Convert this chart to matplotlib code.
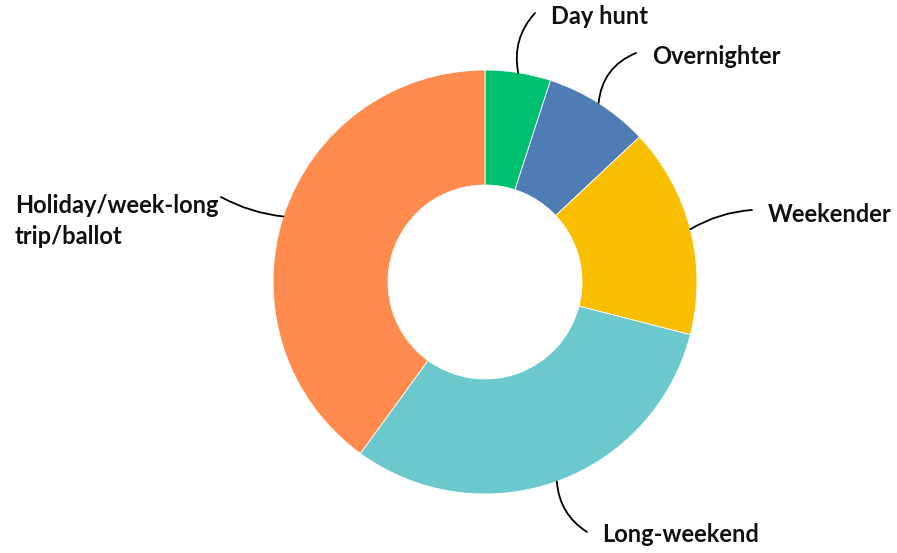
import numpy as np
import matplotlib.pyplot as plt

# trip types and share (%)
labels = ['Day hunt', 'Overnighter', 'Weekender', 'Long-weekend', 'Holiday/week-long\ntrip/ballot']
shares = [5, 8, 16, 31, 40]
colors = ['#00BF6F', '#507CB6', '#F9BE00', '#6BC8CD', '#FF8B4F']

W, H = 897, 553

# leader line end and text position, in pixels from the top-left corner
leader_end = [(535, 13), (636, 53), (752, 210), (587, 532), (221, 197)]
text_pos = [(551, 17), (652, 57), (768, 214), (602, 534), (15, 221)]
curve = [0.25, 0.3, 0.12, -0.25, 0.1]

fig = plt.figure(figsize=(W / 100, H / 100), dpi=100)
ax = fig.add_axes([0, 0, 1, 1])

cx, cy, r = 485, H - 282, 212
wedges, _ = ax.pie(shares, colors=colors, startangle=90, counterclock=False,
                   center=(cx, cy), radius=r, frame=True,
                   wedgeprops=dict(width=r - 97, edgecolor='white', linewidth=0.6))
ax.set_xlim(0, W)
ax.set_ylim(0, H)
ax.set_aspect('equal')
ax.axis('off')

for w, lab, end, tp, rad in zip(wedges, labels, leader_end, text_pos, curve):
    mid = np.deg2rad((w.theta1 + w.theta2) / 2)
    px = cx + r * np.cos(mid)
    py = cy + r * np.sin(mid)
    ax.annotate('', xy=(px, py), xytext=(end[0], H - end[1]),
                arrowprops=dict(arrowstyle='-', color='black', lw=1.3,
                                shrinkA=0, shrinkB=0,
                                connectionstyle=f'arc3,rad={rad}'))
    ax.text(tp[0], H - tp[1], lab, ha='left', va='center', fontsize=17,
            fontweight='bold', family='Lato', color='#111111', linespacing=1.45)

fig.savefig('out.png', dpi=100)
